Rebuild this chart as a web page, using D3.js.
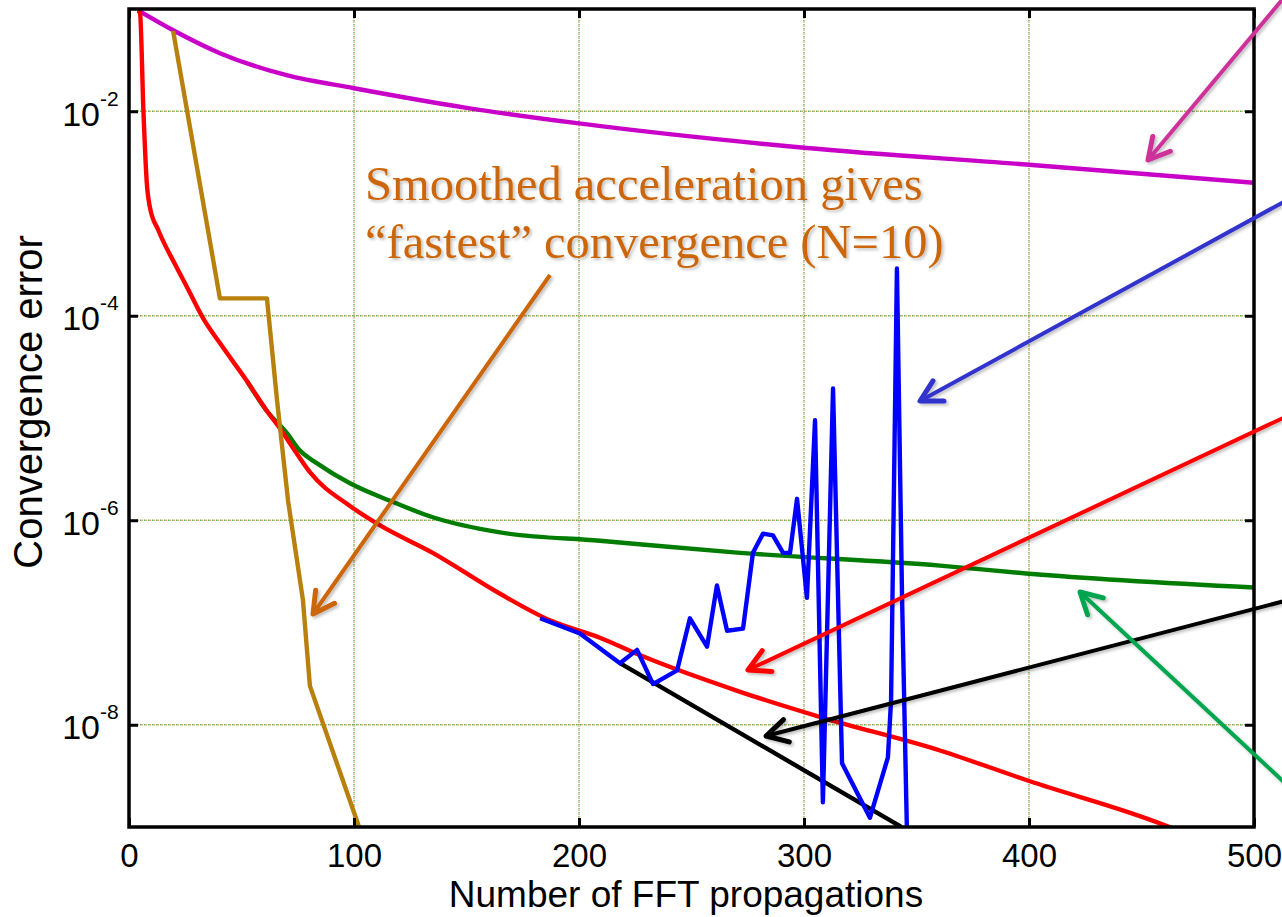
<!DOCTYPE html>
<html>
<head>
<meta charset="utf-8">
<script src="https://cdn.jsdelivr.net/npm/d3@7"></script>
<style>
  html, body { margin: 0; padding: 0; background: #fff; }
  svg { display: block; }
</style>
</head>
<body>
<div id="chart"></div>
<script>
// values: [FFT propagations, convergence error]
const magentaSeries = [[4, 9.7e-2], [19.6, 6.2e-2], [40.4, 3.7e-2], [70, 2.25e-2], [100, 1.68e-2],
  [150, 1.08e-2], [200, 7.6e-3], [300, 4.4e-3], [400, 3.0e-3], [500, 2.0e-3]];

const redSeries = [[4, 9.7e-2], [4.9, 9.1e-2], [6.4, 1.02e-2], [7.9, 2.0e-3], [9.3, 1.15e-3], [13, 6.9e-4],
  [20.4, 3.2e-4], [25.8, 1.9e-4], [32.9, 9.5e-5], [40.4, 5.4e-5], [52.4, 2.3e-5], [61.3, 1.17e-5],
  [67.1, 7.9e-6], [72.9, 5.1e-6], [80.4, 2.95e-6], [98.2, 1.38e-6], [111.6, 8.9e-7], [135, 4.8e-7],
  [164.9, 1.91e-7], [187.1, 1.05e-7], [209.3, 7.1e-8], [227, 4.8e-8], [271.6, 2.1e-8], [308.4, 1.17e-8],
  [360.4, 5.6e-9], [400.4, 2.8e-9], [461.3, 1.02e-9], [470, 8.5e-10]];

const greenSeries = [[52.4, 2.3e-5], [61.3, 1.17e-5], [70.2, 7.1e-6], [76, 4.8e-6], [83.6, 3.6e-6],
  [98.2, 2.3e-6], [116, 1.55e-6], [135, 1.07e-6], [164.9, 7.6e-7], [209.3, 6.3e-7], [271.6, 4.8e-7],
  [360.4, 3.6e-7], [400, 3.0e-7], [500, 2.2e-7]];

const brownSeries = [[19.6, 6.1e-2], [40.4, 1.48e-4], [61.3, 1.48e-4], [65.8, 1.48e-5], [70.7, 1.55e-6],
  [77.3, 1.66e-7], [80.4, 2.4e-8], [101.8, 1.07e-9], [103, 8.5e-10]];

const blueSeries = [[182.7, 1.1e-7], [200.4, 7.8e-8], [218.2, 4.0e-8], [225.8, 5.4e-8], [232.9, 2.5e-8],
  [243.6, 3.4e-8], [249.3, 1.1e-7], [256.9, 5.8e-8], [261.3, 2.3e-7], [265.8, 8.3e-8], [272.9, 8.7e-8],
  [277.3, 4.8e-7], [281.8, 7.4e-7], [286.2, 7.1e-7], [290.7, 4.8e-7], [293.8, 4.8e-7], [296.9, 1.62e-6],
  [301.3, 1.74e-7], [304.9, 9.5e-6], [308.4, 1.74e-9], [312.9, 1.95e-5], [316.9, 4.2e-9], [329.3, 1.23e-9],
  [337.3, 4.8e-9], [338.7, 1.74e-8], [341.3, 2.9e-4], [343.6, 1.66e-7], [345.8, 8e-10]];

const blackSeries = [[218.2, 4.0e-8], [342.7, 1.02e-9], [345, 9.3e-10]];

const xTicks = [0, 100, 200, 300, 400, 500];
const yTicks = [1e-2, 1e-4, 1e-6, 1e-8];
const noteLines = ["Smoothed acceleration gives", "\u201cfastest\u201d convergence (N=10)"];

const W = 1282, H = 917;
const margin = { left: 129, top: 9, right: 1282 - 1254, bottom: 917 - 827 };
const pw = W - margin.left - margin.right;
const ph = H - margin.top - margin.bottom;

const svg = d3.select("#chart").append("svg")
  .attr("width", W).attr("height", H)
  .style("font-family", "'Liberation Sans', Arial, Helvetica, sans-serif");

const defs = svg.append("defs");
defs.append("clipPath").attr("id", "plotclip")
  .append("rect").attr("width", pw).attr("height", ph);
const shadow = defs.append("filter").attr("id", "shadow")
  .attr("x", "-20%").attr("y", "-20%").attr("width", "140%").attr("height", "140%");
shadow.append("feDropShadow").attr("dx", 2).attr("dy", 2).attr("stdDeviation", 1.5)
  .attr("flood-color", "#000").attr("flood-opacity", 0.25);

const x = d3.scaleLinear().domain([0, 500]).range([0, pw]);
const y = d3.scaleLog().domain([1e-9, 1e-1]).range([ph, 0]);

const g = svg.append("g").attr("transform", `translate(${margin.left},${margin.top})`);

// dotted grid (MATLAB style, two-tone)
const grid = g.append("g");
[["#d8b46a", "2 2", 0], ["#5cb85c", "1 3", 1]].forEach(([c, dash, off]) => {
  grid.selectAll(null).data(xTicks.slice(1, -1)).enter().append("line")
    .attr("x1", d => x(d)).attr("x2", d => x(d)).attr("y1", 0).attr("y2", ph)
    .attr("stroke", c).attr("stroke-width", 1.3).attr("stroke-dasharray", dash).attr("stroke-dashoffset", off);
  grid.selectAll(null).data(yTicks).enter().append("line")
    .attr("y1", d => y(d)).attr("y2", d => y(d)).attr("x1", 0).attr("x2", pw)
    .attr("stroke", c).attr("stroke-width", 1.3).attr("stroke-dasharray", dash).attr("stroke-dashoffset", off);
});

// curves
const smooth = d3.line().x(d => x(d[0])).y(d => y(d[1])).curve(d3.curveMonotoneX);
const straight = d3.line().x(d => x(d[0])).y(d => y(d[1]));
const curves = g.append("g").attr("clip-path", "url(#plotclip)");
const series = [
  [magentaSeries, "#c800c8", smooth],
  [greenSeries, "#007d00", smooth],
  [redSeries, "#ff0000", smooth],
  [brownSeries, "#b8800c", straight],
  [blackSeries, "#000000", straight],
  [blueSeries, "#0000ff", straight]
];
series.forEach(([data, color, gen]) => {
  curves.append("path").datum(data)
    .attr("d", gen)
    .attr("fill", "none")
    .attr("stroke", color)
    .attr("stroke-width", 4.4)
    .attr("stroke-linejoin", "round");
});

// axes, ticks pointing inward on all four sides
const tickStyle = sel => {
  sel.select(".domain").remove();
  sel.selectAll(".tick line").attr("stroke", "#000").attr("stroke-width", 3);
};
g.append("g").attr("transform", `translate(0,${ph})`)
  .call(d3.axisBottom(x).tickValues(xTicks).tickSizeInner(-9).tickSizeOuter(0).tickPadding(16))
  .call(tickStyle)
  .call(a => a.selectAll(".tick text").attr("font-size", 33).attr("fill", "#000")
    .attr("font-family", "'Liberation Sans', Arial, sans-serif").attr("dy", "0.72em"));
g.append("g")
  .call(d3.axisTop(x).tickValues(xTicks).tickSizeInner(-9).tickSizeOuter(0).tickFormat(""))
  .call(tickStyle);
const yl = g.append("g")
  .call(d3.axisLeft(y).tickValues(yTicks).tickSizeInner(-9).tickSizeOuter(0).tickFormat(""))
  .call(tickStyle);
g.append("g").attr("transform", `translate(${pw},0)`)
  .call(d3.axisRight(y).tickValues(yTicks).tickSizeInner(-9).tickSizeOuter(0).tickFormat(""))
  .call(tickStyle);

// y labels as 10^-n
yl.selectAll(".tick").append("text")
  .attr("x", -29).attr("y", 14)
  .attr("text-anchor", "end")
  .attr("fill", "#000").attr("font-size", 34)
  .attr("font-family", "'Liberation Sans', Arial, sans-serif")
  .text("10");
yl.selectAll(".tick").append("text")
  .attr("x", -29).attr("y", -6)
  .attr("text-anchor", "start")
  .attr("fill", "#000").attr("font-size", 21)
  .attr("font-family", "'Liberation Sans', Arial, sans-serif")
  .text(d => String(Math.round(Math.log10(d))));

// frame
g.append("rect").attr("width", pw).attr("height", ph)
  .attr("fill", "none").attr("stroke", "#000").attr("stroke-width", 3.5);

// axis titles
svg.append("text")
  .attr("x", 686).attr("y", 907)
  .attr("text-anchor", "middle").attr("font-size", 37).attr("fill", "#000")
  .text("Number of FFT propagations");
svg.append("text")
  .attr("transform", "translate(42,402) rotate(-90)")
  .attr("text-anchor", "middle").attr("font-size", 40).attr("fill", "#000")
  .text("Convergence error");

// annotation text
const note = svg.append("text")
  .attr("x", 365).attr("y", 200)
  .attr("font-family", "'Liberation Serif', 'Times New Roman', serif")
  .attr("font-size", 48.5).attr("fill", "#cc6608")
  .attr("filter", "url(#shadow)");
note.selectAll("tspan").data(noteLines).enter().append("tspan")
  .attr("x", 365).attr("dy", (d, i) => i === 0 ? 0 : 58)
  .text(d => d);

// annotation arrows (from outside the plot towards the curves)
const arrows = [
  { from: [1292, -12], to: [1148, 160], color: "#cc3399" },
  { from: [1300, 193], to: [920, 401], color: "#3333cc" },
  { from: [1300, 410], to: [748, 670], color: "#ff0000" },
  { from: [1300, 597], to: [766, 736], color: "#000000" },
  { from: [1300, 797], to: [1080, 592], color: "#00a64f" },
  { from: [550, 275], to: [313, 614], color: "#cc6608" }
];
const ag = svg.append("g").attr("filter", "url(#shadow)");
arrows.forEach(a => {
  const [x0, y0] = a.from, [x1, y1] = a.to;
  const ang = Math.atan2(y1 - y0, x1 - x0);
  const len = 24, spread = 0.5;
  const p1 = [x1 - len * Math.cos(ang - spread), y1 - len * Math.sin(ang - spread)];
  const p2 = [x1 - len * Math.cos(ang + spread), y1 - len * Math.sin(ang + spread)];
  ag.append("line").attr("x1", x0).attr("y1", y0).attr("x2", x1).attr("y2", y1)
    .attr("stroke", a.color).attr("stroke-width", 4);
  ag.append("path").attr("d", `M${p1}L${x1},${y1}L${p2}`)
    .attr("fill", "none").attr("stroke", a.color).attr("stroke-width", 5)
    .attr("stroke-linecap", "round").attr("stroke-linejoin", "round");
});
</script>
</body>
</html>
